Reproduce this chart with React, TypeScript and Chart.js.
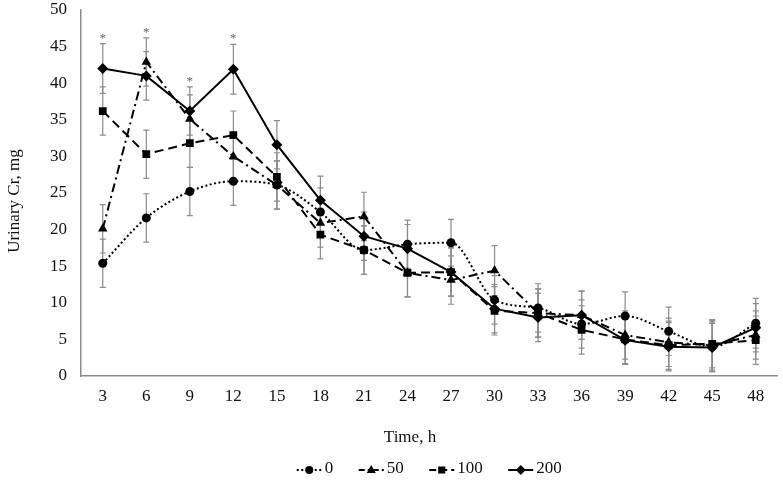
import React, { useEffect, useRef } from 'react';
import { Chart, registerables } from 'chart.js';

Chart.register(...registerables);

const timeLabels = ['3', '6', '9', '12', '15', '18', '21', '24', '27', '30', '33', '36', '39', '42', '45', '48'];

const dose0 = [15.4, 21.6, 25.2, 26.6, 26.1, 22.4, 17.2, 18.0, 18.2, 10.4, 9.3, 7.1, 8.2, 6.1, 4.0, 7.2];
const dose50 = [20.1, 42.9, 35.1, 30.0, 26.1, 20.9, 21.8, 14.1, 13.1, 14.4, 8.6, 8.3, 5.6, 4.6, 4.2, 5.6];
const dose100 = [36.2, 30.3, 31.8, 32.9, 27.2, 19.3, 17.2, 14.1, 14.2, 8.9, 8.6, 6.3, 5.0, 4.2, 4.4, 4.9];
const dose200 = [42.0, 41.0, 36.2, 41.9, 31.6, 24.0, 19.1, 17.4, 14.2, 9.2, 8.0, 8.3, 4.9, 4.0, 3.9, 6.6];

const err0 = [3.3, 3.3, 3.3, 3.3, 3.3, 3.3, 3.3, 3.3, 3.2, 3.3, 3.3, 3.3, 3.3, 3.3, 3.4, 3.4];
const err50 = [3.3, 3.3, 3.3, 3.3, 3.3, 3.3, 3.3, 3.3, 3.3, 3.4, 3.3, 3.3, 3.3, 3.3, 3.4, 3.3];
const err100 = [3.3, 3.3, 3.3, 3.3, 3.3, 3.3, 3.3, 3.3, 3.3, 3.3, 3.3, 3.3, 3.3, 3.3, 3.3, 3.3];
const err200 = [3.4, 3.3, 3.3, 3.4, 3.3, 3.3, 3.3, 3.3, 3.3, 3.3, 3.3, 3.3, 3.3, 3.3, 3.3, 3.3];

const seriesNames = ['0', '50', '100', '200'];
const significance = ['*', '*', '*', '*', '', '', '', '', '', '', '', '', '', '', '', ''];

const yTicksMax = 50;
const yTickStep = 5;
const xAxisTitle = 'Time, h';
const yAxisTitle = 'Urinary Cr, mg';

const FONT = '"Liberation Serif", "Times New Roman", serif';
const INK = '#000000';
const GRAY = '#8c8c8c';

type Marker = 'circle' | 'triangle' | 'rect' | 'rectRot';

const markers: Marker[] = ['circle', 'triangle', 'rect', 'rectRot'];
const radii = [4.5, 5.5, 5.5, 5.5];
const dashes: number[][] = [[2, 2.5], [9, 4, 2, 4], [9, 5], []];

function drawMarker(ctx: CanvasRenderingContext2D, kind: Marker, x: number, y: number, r: number) {
  ctx.beginPath();
  if (kind === 'circle') {
    ctx.arc(x, y, r, 0, Math.PI * 2);
  } else if (kind === 'triangle') {
    ctx.moveTo(x, y - r);
    ctx.lineTo(x + r * 0.9, y + r * 0.6);
    ctx.lineTo(x - r * 0.9, y + r * 0.6);
    ctx.closePath();
  } else if (kind === 'rect') {
    const s = r * Math.SQRT1_2;
    ctx.rect(x - s, y - s, 2 * s, 2 * s);
  } else {
    ctx.moveTo(x, y - r);
    ctx.lineTo(x + r, y);
    ctx.lineTo(x, y + r);
    ctx.lineTo(x - r, y);
    ctx.closePath();
  }
  ctx.fill();
}

const errorBarPlugin = {
  id: 'errorBars',
  beforeDatasetsDraw(chart: any) {
    const { ctx } = chart;
    const yScale = chart.scales.y;
    const tops: number[] = [];
    const xs: number[] = [];
    ctx.save();
    ctx.strokeStyle = GRAY;
    ctx.lineWidth = 1.2;
    chart.data.datasets.forEach((ds: any, di: number) => {
      const meta = chart.getDatasetMeta(di);
      meta.data.forEach((pt: any, i: number) => {
        const v = ds.data[i];
        const e = ds.errors[i];
        const px = pt.x;
        const yt = yScale.getPixelForValue(v + e);
        const yb = yScale.getPixelForValue(v - e);
        ctx.beginPath();
        ctx.moveTo(px, yt);
        ctx.lineTo(px, yb);
        ctx.moveTo(px - 3, yt);
        ctx.lineTo(px + 3, yt);
        ctx.moveTo(px - 3, yb);
        ctx.lineTo(px + 3, yb);
        ctx.stroke();
        xs[i] = px;
        tops[i] = tops[i] === undefined ? yt : Math.min(tops[i], yt);
      });
    });
    ctx.fillStyle = '#666';
    ctx.font = `13px ${FONT}`;
    ctx.textAlign = 'center';
    ctx.textBaseline = 'alphabetic';
    significance.forEach((s, i) => {
      if (s && xs[i] !== undefined) ctx.fillText(s, xs[i], tops[i] - 2);
    });
    ctx.restore();
  },
};

const extrasPlugin = {
  id: 'extras',
  afterDraw(chart: any) {
    const { ctx, chartArea } = chart;
    ctx.save();
    ctx.fillStyle = '#111';
    ctx.font = `17px ${FONT}`;
    ctx.textAlign = 'center';
    ctx.textBaseline = 'middle';
    ctx.fillText(xAxisTitle, 410, 438);

    ctx.save();
    ctx.translate(15, 201);
    ctx.rotate(-Math.PI / 2);
    ctx.fillText(yAxisTitle, 0, 0);
    ctx.restore();

    // legend
    const sample = 25;
    const gap = 3;
    const between = 25.5;
    const widths = seriesNames.map((n) => ctx.measureText(n).width);
    const total = widths.reduce((a, w) => a + sample + gap + w, 0) + between * (seriesNames.length - 1);
    const cx = (chartArea.left + chartArea.right) / 2;
    let x = cx - total / 2;
    const ly = 470;
    seriesNames.forEach((n, i) => {
      ctx.strokeStyle = INK;
      ctx.fillStyle = INK;
      ctx.lineWidth = 2;
      ctx.setLineDash(i === 0 ? [2, 2.5] : i === 1 ? [6, 3, 2, 3] : i === 2 ? [7, 4] : []);
      ctx.beginPath();
      ctx.moveTo(x, ly);
      ctx.lineTo(x + sample, ly);
      ctx.stroke();
      ctx.setLineDash([]);
      drawMarker(ctx, markers[i], x + sample / 2, ly, radii[i] - 0.5);
      ctx.fillStyle = '#111';
      ctx.textAlign = 'left';
      ctx.fillText(n, x + sample + gap, ly - 1);
      x += sample + gap + widths[i] + between;
    });
    ctx.restore();
  },
};

export default function App() {
  const canvasRef = useRef<HTMLCanvasElement | null>(null);

  useEffect(() => {
    const canvas = canvasRef.current;
    if (!canvas) return;
    const seriesData = [dose0, dose50, dose100, dose200];
    const seriesErr = [err0, err50, err100, err200];
    const chart = new Chart(canvas, {
      type: 'line',
      data: {
        labels: timeLabels,
        datasets: seriesNames.map((name, i) => ({
          label: name,
          data: seriesData[i],
          errors: seriesErr[i],
          borderColor: INK,
          backgroundColor: INK,
          borderWidth: 2,
          borderDash: dashes[i],
          pointStyle: markers[i],
          pointRadius: radii[i],
          pointBorderWidth: 0,
          pointBackgroundColor: INK,
          pointBorderColor: INK,
          cubicInterpolationMode: i === 0 ? 'monotone' : 'default',
          tension: 0,
          fill: false,
        })) as any,
      },
      options: {
        animation: false,
        responsive: false,
        layout: { padding: { top: 10, right: 5, left: 0, bottom: 0 } },
        plugins: {
          legend: { display: false },
          tooltip: { enabled: false },
        },
        scales: {
          x: {
            type: 'category',
            offset: true,
            grid: { display: false },
            border: { display: true, color: GRAY, width: 1.5 },
            ticks: {
              font: { family: FONT, size: 17 },
              color: '#111',
              padding: 2,
              maxRotation: 0,
              autoSkip: false,
            },
            afterFit: (s: any) => {
              s.height = 104;
              s.paddingLeft = 0;
              s.paddingRight = 0;
            },
          },
          y: {
            min: 0,
            max: yTicksMax,
            grid: { display: false },
            border: { display: true, color: GRAY, width: 1.5 },
            ticks: {
              stepSize: yTickStep,
              font: { family: FONT, size: 17 },
              color: '#111',
              padding: 6,
            },
            afterFit: (s: any) => {
              s.width = 81;
              s.paddingTop = 0;
              s.paddingBottom = 0;
            },
          },
        },
      } as any,
      plugins: [errorBarPlugin, extrasPlugin],
    });
    return () => chart.destroy();
  }, []);

  return (
    <div style={{ position: 'absolute', left: 0, top: 0, width: 783, height: 480, background: '#fff' }}>
      <canvas ref={canvasRef} width={783} height={480} style={{ display: 'block' }} />
    </div>
  );
}
